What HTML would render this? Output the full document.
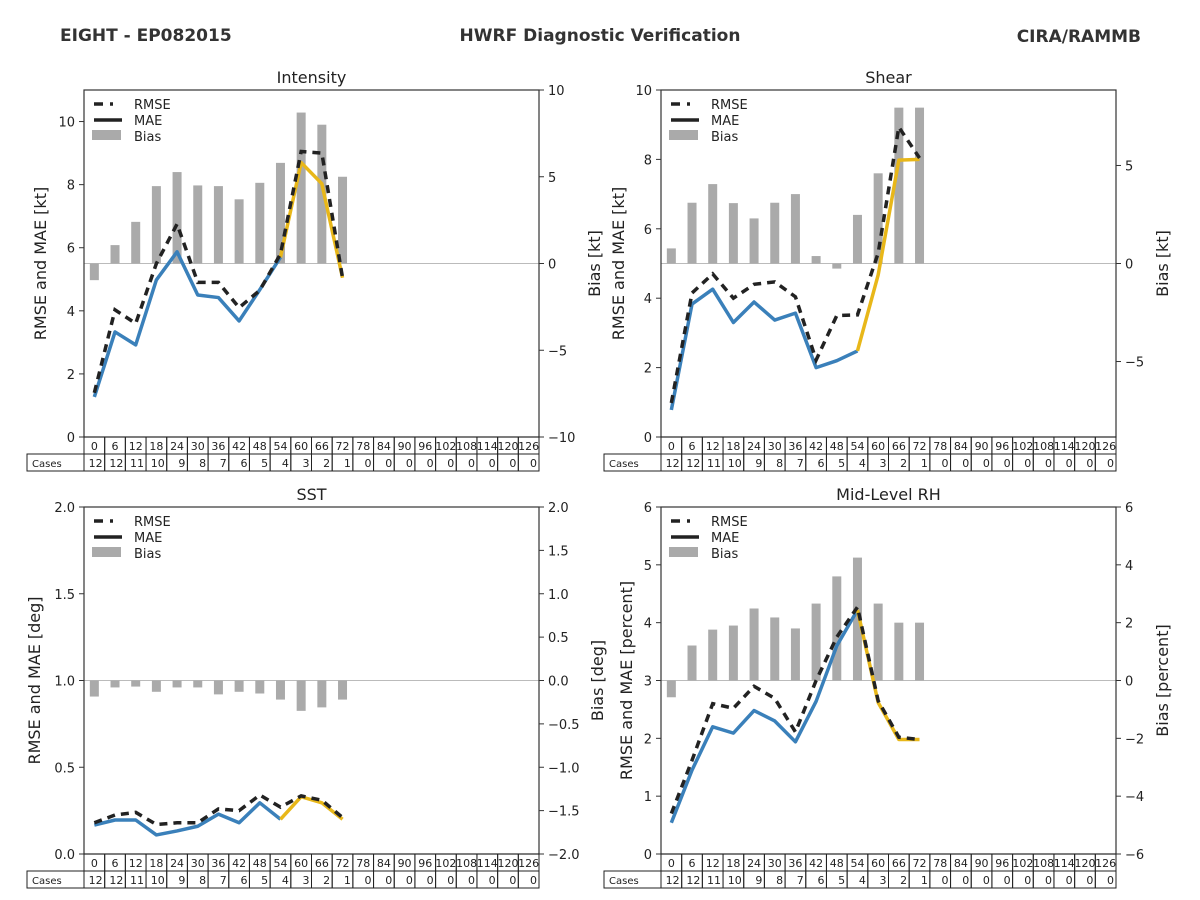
<!DOCTYPE html>
<html><head><meta charset="utf-8"><style>
body{margin:0;background:#fff;}
svg{display:block;font-family:"DejaVu Sans","Liberation Sans",sans-serif;}
</style></head><body>
<svg id="chart" width="1200" height="900" viewBox="0 0 1200 900">
<text x="60" y="41" font-size="17" font-weight="bold" fill="#333">EIGHT - EP082015</text>
<text x="600" y="41" font-size="17" font-weight="bold" fill="#333" text-anchor="middle">HWRF Diagnostic Verification</text>
<text x="1141" y="42" font-size="17" font-weight="bold" fill="#333" text-anchor="end">CIRA/RAMMB</text>
</svg>
<script>
const hours=[0,6,12,18,24,30,36,42,48,54,60,66,72,78,84,90,96,102,108,114,120,126];
const cases=[12,12,11,10,9,8,7,6,5,4,3,2,1,0,0,0,0,0,0,0,0,0];
const intRmse=[1.4,4.03,3.6,5.5,6.75,4.9,4.9,4.1,4.65,5.8,9.05,9.0,5.05];
const intMae=[1.27,3.33,2.92,4.98,5.87,4.5,4.42,3.68,4.67,5.7,8.7,8.03,5.05];
const intBias=[-0.96,1.06,2.4,4.46,5.27,4.5,4.46,3.7,4.65,5.8,8.7,8.0,5.0];
const shRmse=[0.98,4.15,4.7,4.0,4.4,4.47,4.04,2.22,3.5,3.52,5.3,8.93,8.04];
const shMae=[0.78,3.83,4.26,3.3,3.89,3.37,3.57,2.0,2.2,2.48,4.67,7.98,8.0];
const shBias=[0.77,3.1,4.05,3.08,2.3,3.1,3.54,0.38,-0.26,2.48,4.6,7.95,7.95];
const sstRmse=[0.18,0.225,0.24,0.17,0.18,0.18,0.26,0.25,0.34,0.27,0.335,0.31,0.21];
const sstMae=[0.167,0.196,0.196,0.11,0.133,0.16,0.23,0.18,0.295,0.2,0.33,0.295,0.2];
const sstBias=[-0.185,-0.08,-0.07,-0.13,-0.08,-0.08,-0.16,-0.13,-0.15,-0.22,-0.35,-0.31,-0.22];
const rhRmse=[0.7,1.62,2.6,2.52,2.9,2.69,2.11,3.0,3.75,4.27,2.65,2.02,1.98];
const rhMae=[0.54,1.45,2.2,2.09,2.48,2.3,1.94,2.64,3.6,4.22,2.62,1.98,1.98];
const rhBias=[-0.58,1.21,1.76,1.9,2.49,2.18,1.8,2.66,3.6,4.25,2.66,2.0,2.0];
const intLeftTicks=[0,2,4,6,8,10];
const intRightTicks=[-10,-5,0,5,10];
const shLeftTicks=[0,2,4,6,8,10];
const shRightTicks=[-5,0,5];
const sstLeftTicks=["0.0","0.5","1.0","1.5","2.0"];
const sstRightTicks=["-2.0","-1.5","-1.0","-0.5","0.0","0.5","1.0","1.5","2.0"];
const rhLeftTicks=[0,1,2,3,4,5,6];
const rhRightTicks=[-6,-4,-2,0,2,4,6];

const svg=document.getElementById('chart');
const NS='http://www.w3.org/2000/svg';
function mk(tag,attrs,parent){const e=document.createElementNS(NS,tag);for(const k in attrs)e.setAttribute(k,attrs[k]);(parent||svg).appendChild(e);return e;}
function fmt(v){return String(v).replace('-','\u2212');}

function panel(o){
  const g=mk('g',{});
  
  
  const x0=o.x0,x1=o.x0+455,y0=o.y0,y1=o.y0+347;
  const cw=455/22;
  const xc=i=>x0+(i+0.5)*cw;
  const yl=v=>y1-(v-o.lmin)/(o.lmax-o.lmin)*347;
  const yr=v=>y1-(v-o.rmin)/(o.rmax-o.rmin)*347;
  const z=mk('line',{x1:x0,x2:x1,y1:yr(0),y2:yr(0),stroke:'#bbb','stroke-width':1},g);
  
  
  o.bias.forEach((v,i)=>{
    const b=mk('rect',{x:xc(i)-4.5,width:9,y:Math.min(yr(v),yr(0)),height:Math.abs(yr(v)-yr(0)),fill:'#aaaaaa'},g);
    
    
  });
  const pts=(arr,a,b)=>arr.slice(a,b).map((v,k)=>xc(a+k)+','+yl(v)).join(' ');
  const m1=mk('polyline',{points:pts(o.mae,0,10),fill:'none',stroke:'#3a80ba','stroke-width':3.5,'stroke-linejoin':'round'},g);
  
  
  const m2=mk('polyline',{points:pts(o.mae,9,o.mae.length),fill:'none',stroke:'#e8b719','stroke-width':3.5,'stroke-linejoin':'round'},g);
  
  
  const r=mk('polyline',{points:pts(o.rmse,0,o.rmse.length),fill:'none',stroke:'#222','stroke-width':3.5,'stroke-dasharray':'8,6'},g);
  
  
  const f=mk('rect',{x:x0,y:y0,width:455,height:347,fill:'none',stroke:'#333','stroke-width':1.2},g);
  
  
  o.lt.forEach(t=>{const v=parseFloat(t),y=yl(v);
    mk('line',{x1:x0-5,x2:x0,y1:y,y2:y,stroke:'#333'},g);
    const tx=mk('text',{x:x0-9,y:y+5,'font-size':13,'text-anchor':'end',fill:'#222'},g);tx.textContent=fmt(t);
    
    });
  o.rt.forEach(t=>{const v=parseFloat(t),y=yr(v);
    mk('line',{x1:x1,x2:x1+5,y1:y,y2:y,stroke:'#333'},g);
    const tx=mk('text',{x:x1+9,y:y+5,'font-size':13,fill:'#222'},g);tx.textContent=fmt(t);
    
    });
  const ti=mk('text',{x:(x0+x1)/2,y:y0-7,'font-size':16,'text-anchor':'middle',fill:'#222'},g);ti.textContent=o.title;
  
  
  const ll=mk('text',{x:0,y:0,'font-size':16,'text-anchor':'middle',fill:'#222',transform:`translate(${o.llx},${(y0+y1)/2}) rotate(-90)`},g);ll.textContent=o.ylab;
  
  
  const rl=mk('text',{x:0,y:0,'font-size':16,'text-anchor':'middle',fill:'#222',transform:`translate(${o.rlx},${(y0+y1)/2}) rotate(-90)`},g);rl.textContent=o.rlab;
  
  
  const lg=mk('g',{},g);
  
  
  const lx=x0+10,ly=y0+14;
  mk('line',{x1:lx,x2:lx+28,y1:ly,y2:ly,stroke:'#222','stroke-width':3.5,'stroke-dasharray':'9,7,3,20'},lg);
  mk('line',{x1:lx,x2:lx+28,y1:ly+16,y2:ly+16,stroke:'#222','stroke-width':3.5},lg);
  mk('rect',{x:lx-2,y:ly+26,width:29,height:10,fill:'#aaa'},lg);
  ['RMSE','MAE','Bias'].forEach((s,k)=>{const t=mk('text',{x:lx+40,y:ly+5+16*k,'font-size':13,fill:'#222'},lg);t.textContent=s;
    
    });
  const tb=mk('g',{},g);
  
  
  mk('rect',{x:x0-57,y:y1+17,width:57,height:17,fill:'none',stroke:'#222'},tb);
  const cl=mk('text',{x:x0-52,y:y1+30,'font-size':10,fill:'#222'},tb);cl.textContent='Cases';
  
  
  hours.forEach((h,i)=>{
    const cx=x0+i*cw;
    mk('rect',{x:cx,y:y1,width:cw,height:17,fill:'none',stroke:'#222'},tb);
    mk('rect',{x:cx,y:y1+17,width:cw,height:17,fill:'none',stroke:'#222'},tb);
    const a=mk('text',{x:cx+cw/2,y:y1+13,'font-size':11,'text-anchor':'middle',fill:'#222'},tb);a.textContent=h;
    
    
    const b=mk('text',{x:cx+cw-2,y:y1+30,'font-size':11,'text-anchor':'end',fill:'#222'},tb);b.textContent=cases[i];
    
    
  });
}
panel({name:'intensity',title:'Intensity',x0:84,y0:90,lmin:0,lmax:11,rmin:-10,rmax:10,rmse:intRmse,mae:intMae,bias:intBias,lt:intLeftTicks,rt:intRightTicks,ylab:'RMSE and MAE [kt]',rlab:'Bias [kt]',llx:46,rlx:600});
panel({name:'shear',title:'Shear',x0:661,y0:90,lmin:0,lmax:10,rmin:-8.85,rmax:8.85,rmse:shRmse,mae:shMae,bias:shBias,lt:shLeftTicks,rt:shRightTicks,ylab:'RMSE and MAE [kt]',rlab:'Bias [kt]',llx:624,rlx:1168});
panel({name:'sst',title:'SST',x0:84,y0:507,lmin:0,lmax:2,rmin:-2,rmax:2,rmse:sstRmse,mae:sstMae,bias:sstBias,lt:sstLeftTicks,rt:sstRightTicks,ylab:'RMSE and MAE [deg]',rlab:'Bias [deg]',llx:40,rlx:603});
panel({name:'mid-level-rh',title:'Mid-Level RH',x0:661,y0:507,lmin:0,lmax:6,rmin:-6,rmax:6,rmse:rhRmse,mae:rhMae,bias:rhBias,lt:rhLeftTicks,rt:rhRightTicks,ylab:'RMSE and MAE [percent]',rlab:'Bias [percent]',llx:632,rlx:1168});
</script>
</body></html>
